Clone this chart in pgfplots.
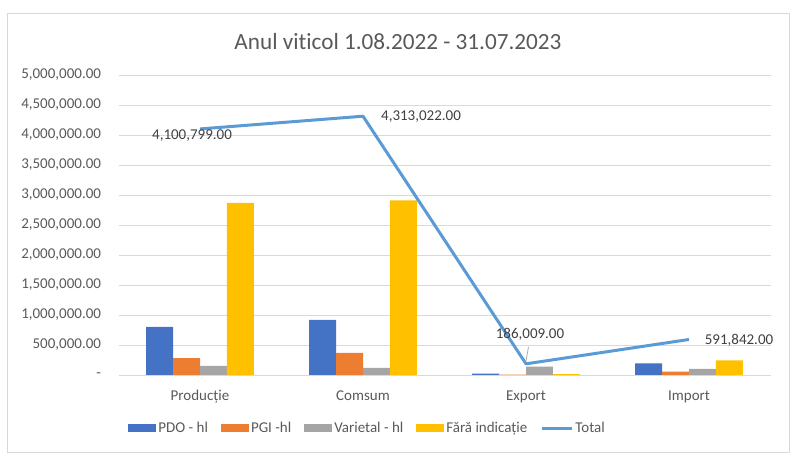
\documentclass[border=0pt]{standalone}
\usepackage{fontspec}
\setmainfont{Carlito}[Ligatures=NoCommon]
\usepackage{pgfplots}
\pgfplotsset{compat=1.18}
\definecolor{pdo}{HTML}{4472C4}
\definecolor{pgi}{HTML}{ED7D31}
\definecolor{var}{HTML}{A5A5A5}
\definecolor{fara}{HTML}{FFC000}
\definecolor{tot}{HTML}{5B9BD5}
\definecolor{txt}{HTML}{595959}
\definecolor{lbl}{HTML}{404040}
\definecolor{grd}{HTML}{D9D9D9}
\begin{document}
\begin{tikzpicture}[x=1bp,y=1bp]
\useasboundingbox (0,0) rectangle (795,470);
\draw[grd, line width=0.75bp] (7,18) rectangle (789,457);
\node[font=\fontsize{23.2bp}{27bp}\selectfont, text=txt] at (398,428) {Anul viticol 1.08.2022 - 31.07.2023};
\begin{axis}[
  at={(118.5bp,95bp)}, anchor=south west,
  scale only axis, width=652bp, height=300bp,
  xmin=-0.5, xmax=3.5, ymin=0, ymax=5000000,
  enlargelimits=false, clip=false,
  axis line style={draw=none},
  major tick length=0pt,
  ymajorgrids, grid style={grd, line width=0.75bp},
  scaled y ticks=false,
  ytick={0,500000,1000000,1500000,2000000,2500000,3000000,3500000,4000000,4500000,5000000},
  yticklabels={{-\hspace{9bp}},{500,000.00},{1,000,000.00},{1,500,000.00},{2,000,000.00},{2,500,000.00},{3,000,000.00},{3,500,000.00},{4,000,000.00},{4,500,000.00},{5,000,000.00}},
  xtick={0,1,2,3},
  xticklabels={Producție,Comsum,Export,Import},
  tick label style={font=\fontsize{15bp}{18bp}\selectfont, text=txt},
  yticklabel style={xshift=-14bp},
  xticklabel style={yshift=-12bp},
  legend columns=5,
  legend style={at={(0.382,-0.177)}, anchor=center, draw=none, fill=none,
    font=\fontsize{15bp}{18bp}\selectfont, text=txt,
    /tikz/every even column/.append style={column sep=11bp}},
]
\addplot[ybar, bar width=0.165, bar shift=-0.2475, fill=pdo, draw=none,
  legend image code/.code={\fill[pdo] (0bp,-4bp) rectangle (28bp,4bp);}]
  coordinates {(0,800000) (1,917000) (2,22000) (3,195000)};
\addlegendentry{PDO - hl}
\addplot[ybar, bar width=0.165, bar shift=-0.0825, fill=pgi, draw=none,
  legend image code/.code={\fill[pgi] (0bp,-4bp) rectangle (28bp,4bp);}]
  coordinates {(0,283000) (1,367000) (2,8000) (3,55000)};
\addlegendentry{PGI -hl}
\addplot[ybar, bar width=0.165, bar shift=0.0825, fill=var, draw=none,
  legend image code/.code={\fill[var] (0bp,-4bp) rectangle (28bp,4bp);}]
  coordinates {(0,150000) (1,117000) (2,140000) (3,100000)};
\addlegendentry{Varietal - hl}
\addplot[ybar, bar width=0.165, bar shift=0.2475, fill=fara, draw=none,
  legend image code/.code={\fill[fara] (0bp,-4bp) rectangle (28bp,4bp);}]
  coordinates {(0,2868000) (1,2912000) (2,16000) (3,242000)};
\addlegendentry{Fără indicație}
\addplot[sharp plot, tot, line width=3bp, line join=round, mark=none,
  legend image code/.code={\draw[tot, line width=3bp] (0bp,0bp) -- (30bp,0bp);}]
  coordinates {(0,4100799) (1,4313022) (2,186009) (3,591842)};
\addlegendentry{Total}
\node[font=\fontsize{15bp}{18bp}\selectfont, text=lbl, xshift=-8bp, yshift=-7bp] at (axis cs:0,4100799) {4,100,799.00};
\node[font=\fontsize{15bp}{18bp}\selectfont, text=lbl, xshift=58bp, yshift=0bp] at (axis cs:1,4313022) {4,313,022.00};
\draw[var, line width=0.75bp] ([xshift=0bp,yshift=3bp]axis cs:2,186009) -- ([xshift=2.5bp,yshift=17bp]axis cs:2,186009);
\node[font=\fontsize{15bp}{18bp}\selectfont, text=lbl, xshift=4bp, yshift=29bp] at (axis cs:2,186009) {186,009.00};
\node[font=\fontsize{15bp}{18bp}\selectfont, text=lbl, xshift=50bp, yshift=-1bp] at (axis cs:3,591842) {591,842.00};
\end{axis}
\end{tikzpicture}
\end{document}
